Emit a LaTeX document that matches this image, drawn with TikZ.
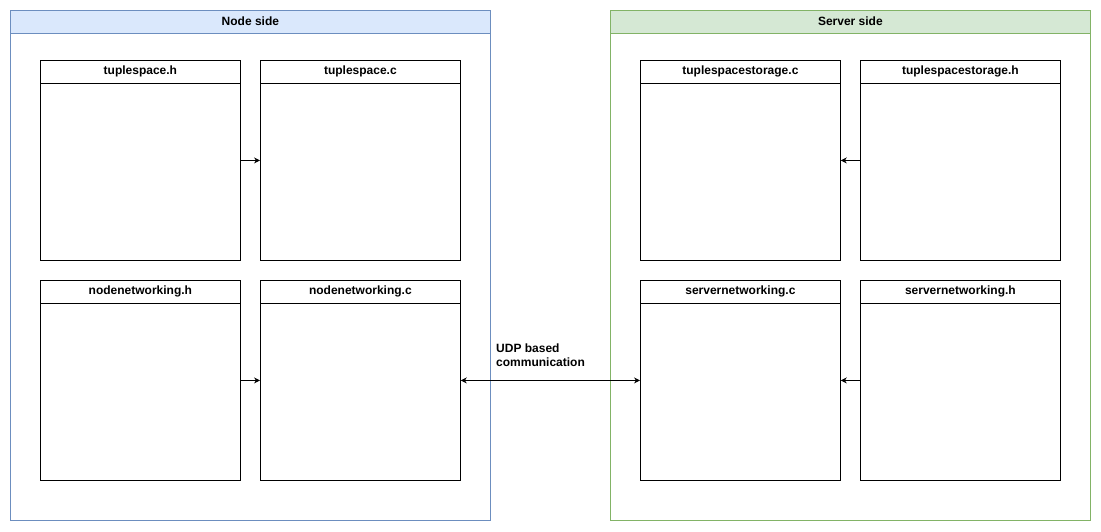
\documentclass[tikz,border=0pt]{standalone}
\usepackage{fontspec}
\setmainfont{Liberation Sans}
\usetikzlibrary{arrows.meta}
\definecolor{bluefill}{HTML}{DAE8FC}
\definecolor{bluestroke}{HTML}{6C8EBF}
\definecolor{greenfill}{HTML}{D5E8D4}
\definecolor{greenstroke}{HTML}{82B366}
\tikzset{
  lbl/.style={font=\fontsize{12pt}{14pt}\selectfont\bfseries, inner sep=0pt},
  filebox/.style={draw=black, line width=0.8pt, minimum width=200pt, minimum height=200pt, inner sep=0pt, anchor=north west},
  conn/.style={line width=0.8pt, -{Stealth[length=6pt,width=6pt,inset=2pt]}},
  conn2/.style={line width=0.8pt, {Stealth[length=6pt,width=6pt,inset=2pt]}-{Stealth[length=6pt,width=6pt,inset=2pt]}}
}
\newcommand\myfilebox[4]{%
  \node[filebox] (#1) at (#2,#3) {};
  \draw[line width=0.8pt] ([yshift=-23pt]#1.north west) -- ([yshift=-23pt]#1.north east);
  \node[lbl] (#1-t) at ([yshift=-11.5pt]#1.north) {#4};
}
\begin{document}
\begin{tikzpicture}[x=1pt,y=-1pt]
\useasboundingbox[fill=white] (0,0) rectangle (1101,531);
% containers
\node[draw=bluestroke, line width=0.8pt, minimum width=480pt, minimum height=510pt, inner sep=0pt, anchor=north west] (ns) at (10,10) {};
\fill[bluefill] (ns.north west) rectangle ([yshift=-23pt]ns.north east);
\draw[bluestroke, line width=0.8pt] (ns.north west) rectangle (ns.south east);
\draw[bluestroke, line width=0.8pt] ([yshift=-23pt]ns.north west) -- ([yshift=-23pt]ns.north east);
\node[lbl] (ns-t) at ([yshift=-11.5pt]ns.north) {Node side};

\node[draw=greenstroke, line width=0.8pt, minimum width=480pt, minimum height=510pt, inner sep=0pt, anchor=north west] (ss) at (610,10) {};
\fill[greenfill] (ss.north west) rectangle ([yshift=-23pt]ss.north east);
\draw[greenstroke, line width=0.8pt] (ss.north west) rectangle (ss.south east);
\draw[greenstroke, line width=0.8pt] ([yshift=-23pt]ss.north west) -- ([yshift=-23pt]ss.north east);
\node[lbl] (ss-t) at ([yshift=-11.5pt]ss.north) {Server side};

% file boxes
\myfilebox{tsh}{40}{60}{tuplespace.h}
\myfilebox{tsc}{260}{60}{tuplespace.c}
\myfilebox{nnh}{40}{280}{nodenetworking.h}
\myfilebox{nnc}{260}{280}{nodenetworking.c}
\myfilebox{tssc}{640}{60}{tuplespacestorage.c}
\myfilebox{tssh}{860}{60}{tuplespacestorage.h}
\myfilebox{snc}{640}{280}{servernetworking.c}
\myfilebox{snh}{860}{280}{servernetworking.h}

% connectors
\draw[conn] (tsh.east) -- (tsc.west);
\draw[conn] (nnh.east) -- (nnc.west);
\draw[conn] (tssh.west) -- (tssc.east);
\draw[conn] (snh.west) -- (snc.east);
\draw[conn2] (nnc.east) -- (snc.west);
\node[lbl, anchor=west, align=left, font=\fontsize{12pt}{14pt}\selectfont\bfseries] (udp) at (496,355) {UDP based\\communication};
\end{tikzpicture}
\end{document}
